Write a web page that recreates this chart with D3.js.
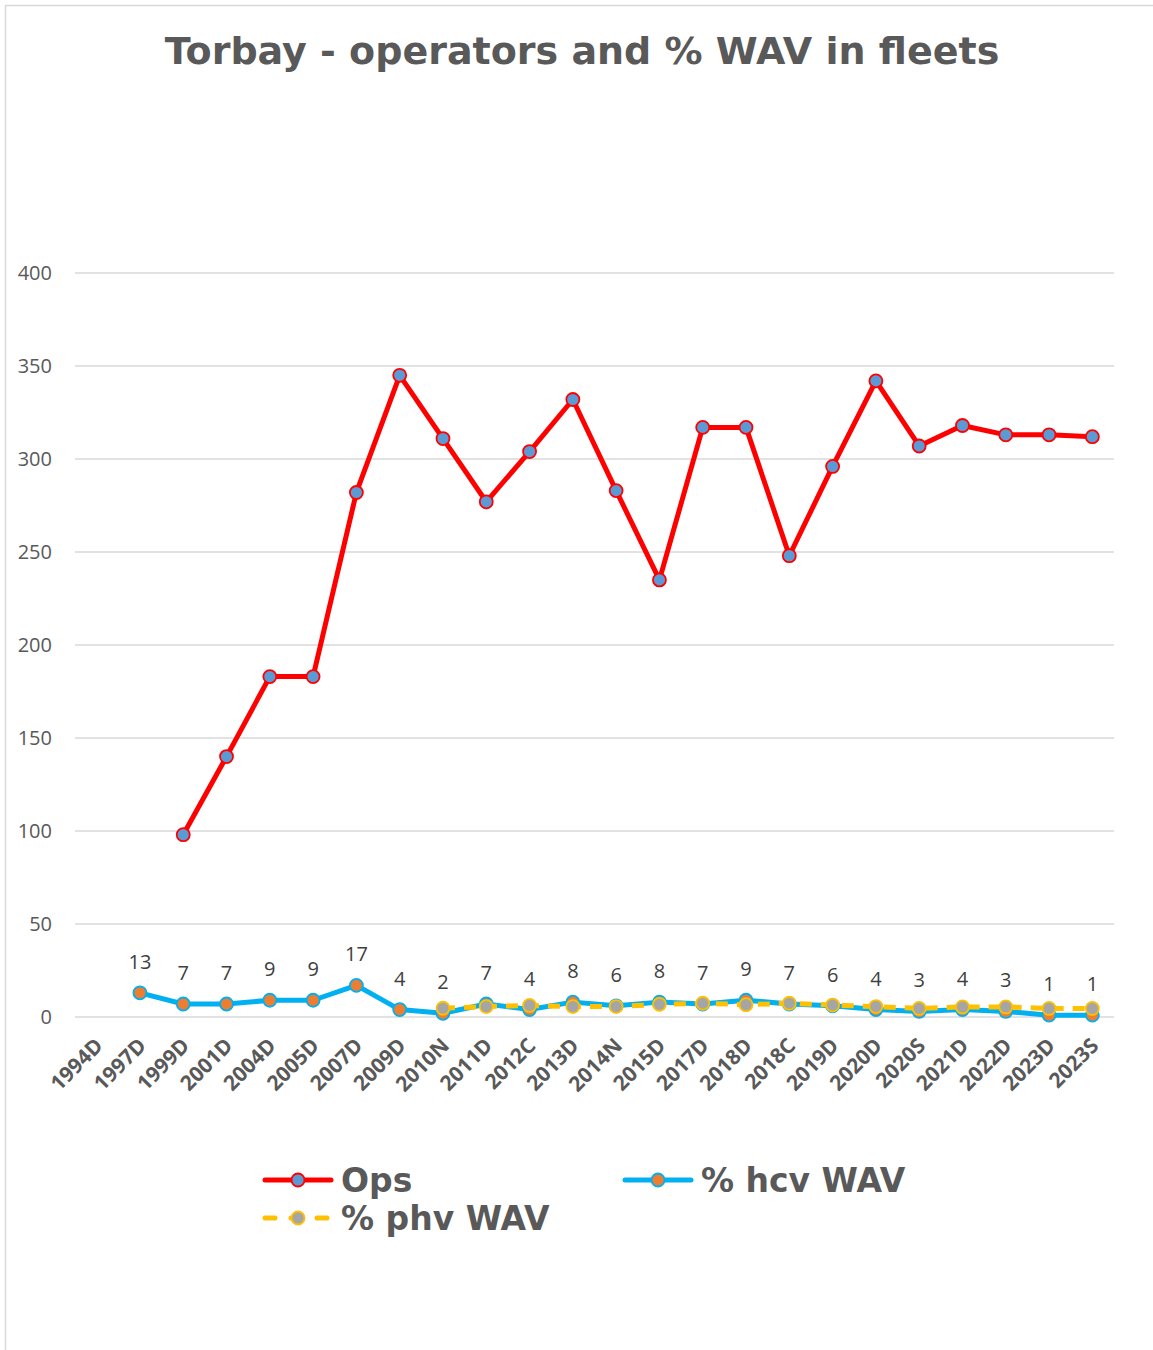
<!DOCTYPE html>
<html>
<head>
<meta charset="utf-8">
<script src="https://cdn.jsdelivr.net/npm/d3@7"></script>
<style>
  body { margin: 0; background: #fff; }
  svg { display: block; }
</style>
</head>
<body>
<div id="chart"></div>
<script>
"use strict";

const categories = ["1994D", "1997D", "1999D", "2001D", "2004D", "2005D", "2007D", "2009D",
    "2010N", "2011D", "2012C", "2013D", "2014N", "2015D", "2017D", "2018D", "2018C",
    "2019D", "2020D", "2020S", "2021D", "2022D", "2023D", "2023S"];
const ops = [null, null, 98, 140, 183, 183, 282, 345, 311, 277, 304, 332, 283, 235,
    317, 317, 248, 296, 342, 307, 318, 313, 313, 312];
const hcvWav = [null, 13, 7, 7, 9, 9, 17, 4, 2, 7, 4, 8, 6, 8, 7, 9, 7, 6, 4, 3, 4, 3, 1, 1];
const phvWav = [null, null, null, null, null, null, null, null, 4.7, 5.6, 6.2, 5.6, 5.6,
    6.8, 7.4, 6.6, 7.4, 6.4, 5.6, 4.6, 5.4, 5.4, 4.6, 4.6];
const yTicks = [0, 50, 100, 150, 200, 250, 300, 350, 400];

const width = 1153, height = 1350;
const margin = {top: 273, right: 39, bottom: 333, left: 75};
const plotW = width - margin.left - margin.right;
const plotH = height - margin.top - margin.bottom;

const svg = d3.select("#chart").append("svg")
    .attr("width", width)
    .attr("height", height);

// chart border
svg.append("rect")
    .attr("x", 5.5).attr("y", 5.5)
    .attr("width", 1160).attr("height", 1360)
    .attr("fill", "#fff")
    .attr("stroke", "#d9d9d9")
    .attr("stroke-width", 1.5);

svg.append("text")
    .attr("x", 582)
    .attr("y", 64)
    .attr("text-anchor", "middle")
    .style("font-family", "'DejaVu Sans', Verdana, sans-serif")
    .style("font-weight", "bold")
    .style("font-size", "38px")
    .style("fill", "#595959")
    .text("Torbay - operators and % WAV in fleets");

const g = svg.append("g")
    .attr("transform", "translate(" + margin.left + "," + margin.top + ")");

const x = d3.scalePoint()
    .domain(categories)
    .range([0, plotW])
    .padding(0.5);

const y = d3.scaleLinear()
    .domain([0, 400])
    .range([plotH, 0]);

// gridlines
g.append("g")
    .selectAll("line")
    .data(yTicks)
    .join("line")
    .attr("x1", 0).attr("x2", plotW)
    .attr("y1", (d) => y(d)).attr("y2", (d) => y(d))
    .attr("stroke", "#d9d9d9")
    .attr("stroke-width", 1.5);

// y axis labels
const yAxis = g.append("g")
    .call(d3.axisLeft(y).tickValues(yTicks).tickSize(0).tickPadding(23));
yAxis.select(".domain").remove();
yAxis.selectAll("text")
    .style("font-family", "'Open Sans', 'Liberation Sans', sans-serif")
    .style("font-size", "20px")
    .style("fill", "#595959");

// x axis labels
const xAxis = g.append("g")
    .attr("transform", "translate(0," + plotH + ")")
    .call(d3.axisBottom(x).tickSize(0));
xAxis.select(".domain").remove();
xAxis.selectAll("text")
    .attr("text-anchor", "end")
    .attr("dy", null)
    .attr("y", 0)
    .attr("transform", "translate(7,30) rotate(-45)")
    .style("font-family", "'Open Sans', 'Liberation Sans', sans-serif")
    .style("font-weight", "bold")
    .style("font-size", "21px")
    .style("fill", "#595959");

const series = [
    {name: "Ops", values: ops, stroke: "#ff0000", fill: "#5b9bd5", dash: null},
    {name: "% hcv WAV", values: hcvWav, stroke: "#00b0f0", fill: "#ed7d31", dash: null},
    {name: "% phv WAV", values: phvWav, stroke: "#ffc000", fill: "#a5a5a5", dash: "12,9"},
];

series.forEach((s) => {
    const pts = categories.map((c, i) => ({c: c, v: s.values[i]}))
        .filter((d) => d.v !== null);
    const line = d3.line()
        .x((d) => x(d.c))
        .y((d) => y(d.v));
    g.append("path")
        .datum(pts)
        .attr("fill", "none")
        .attr("stroke", s.stroke)
        .attr("stroke-width", 5)
        .attr("stroke-linejoin", "round")
        .attr("stroke-dasharray", s.dash)
        .attr("d", line);
    g.append("g")
        .selectAll("circle")
        .data(pts)
        .join("circle")
        .attr("cx", (d) => x(d.c))
        .attr("cy", (d) => y(d.v))
        .attr("r", 6.5)
        .attr("fill", s.fill)
        .attr("stroke", s.stroke)
        .attr("stroke-width", 1.8);
});

// data labels for hcv
g.append("g")
    .selectAll("text")
    .data(categories.map((c, i) => ({c: c, v: hcvWav[i]})).filter((d) => d.v !== null))
    .join("text")
    .attr("x", (d) => x(d.c))
    .attr("y", (d) => y(d.v) - 24)
    .attr("text-anchor", "middle")
    .style("font-family", "'Open Sans', 'Liberation Sans', sans-serif")
    .style("font-size", "20px")
    .style("fill", "#404040")
    .text((d) => d.v);

// legend
const legendPos = [
    {x: 265, y: 1180},
    {x: 625, y: 1180},
    {x: 265, y: 1218},
];
series.forEach((s, i) => {
    const p = legendPos[i];
    const lg = svg.append("g").attr("transform", "translate(" + p.x + "," + p.y + ")");
    lg.append("line")
        .attr("x1", 0).attr("x2", 66)
        .attr("y1", 0).attr("y2", 0)
        .attr("stroke", s.stroke)
        .attr("stroke-width", 5)
        .attr("stroke-linecap", "round")
        .attr("stroke-dasharray", s.dash ? "10,16" : null);
    lg.append("circle")
        .attr("cx", 33).attr("cy", 0)
        .attr("r", 6.5)
        .attr("fill", s.fill)
        .attr("stroke", s.stroke)
        .attr("stroke-width", 1.8);
    lg.append("text")
        .attr("x", 76)
        .attr("y", 12)
        .style("font-family", "'DejaVu Sans', Verdana, sans-serif")
        .style("font-weight", "bold")
        .style("font-size", "33px")
        .style("fill", "#595959")
        .text(s.name);
});
</script>
</body>
</html>
